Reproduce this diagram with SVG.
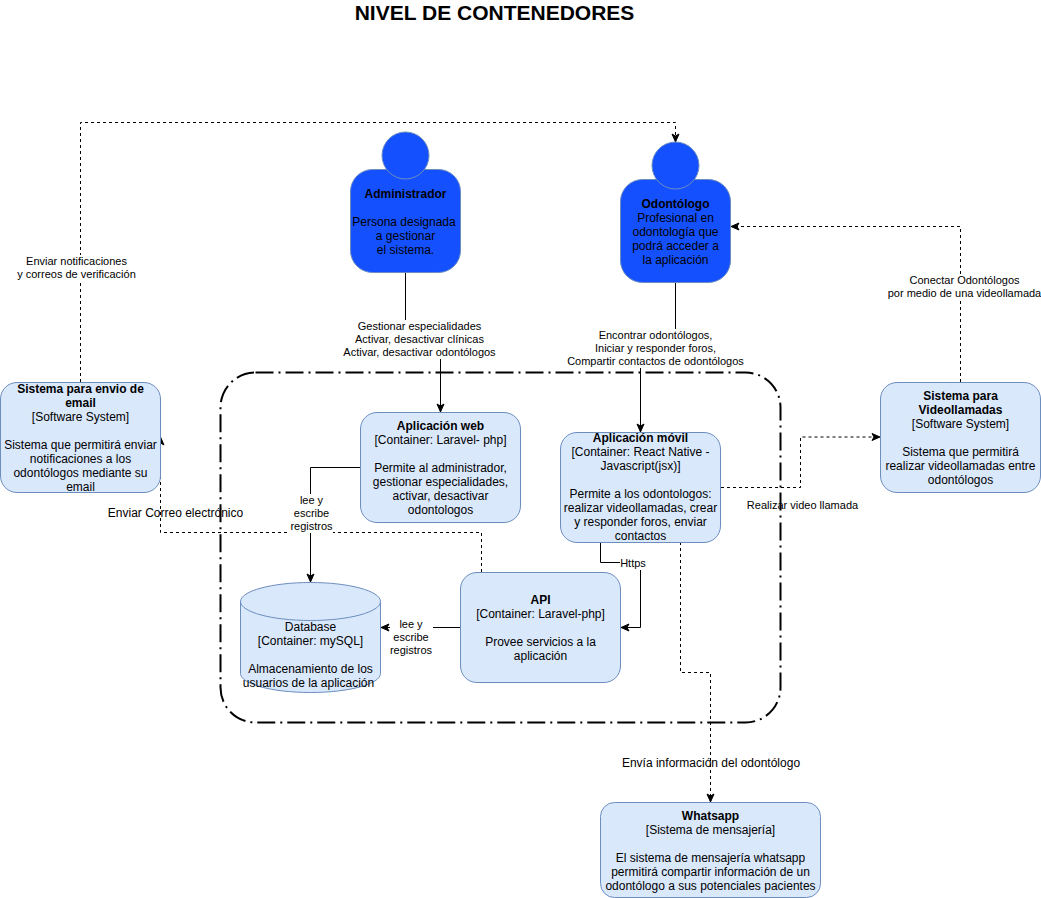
<svg xmlns="http://www.w3.org/2000/svg" width="1041" height="898" viewBox="0 0 1041 898">
<style>
text{font-family:"Liberation Sans",Arial,sans-serif;font-size:12px;fill:#000;text-anchor:middle}
text.b,tspan.b{font-weight:bold}
text.l{font-size:11px}
.box{fill:#dae8fc;stroke:#6c8ebf;stroke-width:1}
.act{fill:#1550ff;stroke:#6c8ebf;stroke-width:1}
.c{fill:none;stroke:#000;stroke-width:1}
.d{stroke-dasharray:3 3}
.bg{fill:#fff}
</style>
<defs>
<marker id="a" markerUnits="userSpaceOnUse" markerWidth="10" markerHeight="10" viewBox="-1 -1 10 10" refX="8" refY="4" orient="auto">
<path d="M8 4L0 0.500L2 4L0 7.500Z" fill="#000" stroke="#000" stroke-width="1"/>
</marker>
</defs>
<rect width="1041" height="898" fill="#fff"/>
<text x="494.500" y="20" class="b" style="font-size:21px">NIVEL DE CONTENEDORES</text>
<rect id="boundary" x="220.500" y="372.500" width="560" height="350" rx="35" ry="35" fill="none" stroke="#000" stroke-width="2" stroke-dasharray="18 5 2 5"/>
<g id="connectors">
<path class="c" d="M405.500 272V340H440.500V412" marker-end="url(#a)"/>
<path class="c" d="M675.500 282V350H640.500V432" marker-end="url(#a)"/>
<path class="c" d="M360 467.500H310.500V582" marker-end="url(#a)"/>
<path class="c d" d="M481.500 572V532.500H160.500V437" marker-end="url(#a)"/>
<path class="c" d="M460 627.500H381" marker-end="url(#a)"/>
<path class="c" d="M600.500 542V562.500H640.500V627.500H621" marker-end="url(#a)"/>
<path class="c d" d="M721 487.500H800.500V437H880" marker-end="url(#a)"/>
<path class="c d" d="M680.500 542V672.500H710.500V802" marker-end="url(#a)"/>
<path class="c d" d="M960.500 382V226.500H731" marker-end="url(#a)"/>
<path class="c d" d="M80.500 382V122.500H675.500V142" marker-end="url(#a)"/>
<rect class="bg" x="18" y="255" width="119" height="26"/>
<text class="l" x="76.500" y="265">Enviar notificaciones</text>
<text class="l" x="76.500" y="278">y correos de verificación</text>
<rect class="bg" x="343" y="320" width="153" height="39"/>
<text class="l" x="419.500" y="330">Gestionar especialidades</text>
<text class="l" x="419.500" y="343">Activar, desactivar clínicas</text>
<text class="l" x="419.500" y="356">Activar, desactivar odontólogos</text>
<rect class="bg" x="567" y="329" width="177" height="39"/>
<text class="l" x="655.500" y="339">Encontrar odontólogos,</text>
<text class="l" x="655.500" y="352">Iniciar y responder foros,</text>
<text class="l" x="655.500" y="365">Compartir contactos de odontólogos</text>
<rect class="bg" x="888" y="274" width="153" height="26"/>
<text class="l" x="964.500" y="284">Conectar Odontólogos</text>
<text class="l" x="964.500" y="297">por medio de una videollamada</text>
<rect class="bg" x="290" y="494" width="43" height="39"/>
<text class="l" x="311.500" y="504">lee y</text>
<text class="l" x="311.500" y="517">escribe</text>
<text class="l" x="311.500" y="530">registros</text>
<rect class="bg" x="390" y="617" width="43" height="39"/>
<text class="l" x="411" y="628">lee y</text>
<text class="l" x="411" y="641">escribe</text>
<text class="l" x="411" y="654">registros</text>
<rect class="bg" x="620" y="557" width="26" height="13"/>
<text class="l" x="633" y="567">Https</text>
<text x="175.500" y="517">Enviar Correo electrónico</text>
<text class="l" x="802.500" y="509">Realizar video llamada</text>
<text x="711" y="767">Envía información del odontólogo</text>
</g>
<g id="administrador">
<rect class="act" x="350.500" y="169.500" width="110" height="103" rx="22" ry="22"/>
<circle class="act" cx="405.500" cy="155.500" r="23.500"/>
<text class="b" x="405.500" y="198">Administrador</text>
<text x="404" y="226">Persona designada</text>
<text x="405.500" y="240">a gestionar</text>
<text x="405.500" y="254">el sistema.</text>
</g>
<g id="odontologo">
<rect class="act" x="620.500" y="179.500" width="110" height="103" rx="22" ry="22"/>
<circle class="act" cx="675.500" cy="165.500" r="23.500"/>
<text class="b" x="675.500" y="208">Odontólogo</text>
<text x="675.500" y="222">Profesional en</text>
<text x="675.500" y="236">odontología que</text>
<text x="675.500" y="250">podrá acceder a</text>
<text x="675.500" y="264">la aplicación</text>
</g>
<g id="email">
<rect class="box" x="0.500" y="382.500" width="160" height="110" rx="16.500" ry="16.500"/>
<text class="b" x="80.500" y="393">Sistema para envio de</text>
<text class="b" x="80.500" y="407">email</text>
<text x="80.500" y="421">[Software System]</text>
<text x="80.500" y="449">Sistema que permitirá enviar</text>
<text x="80.500" y="463">notificaciones a los</text>
<text x="80.500" y="477">odontólogos mediante su</text>
<text x="80.500" y="491">email</text>
</g>
<g id="web">
<rect class="box" x="360.500" y="412.500" width="160" height="110" rx="16.500" ry="16.500"/>
<text class="b" x="440.500" y="430">Aplicación web</text>
<text x="440.500" y="444">[Container: Laravel- php]</text>
<text x="440.500" y="472">Permite al administrador,</text>
<text x="440.500" y="486">gestionar especialidades,</text>
<text x="440.500" y="500">activar, desactivar</text>
<text x="440.500" y="514">odontologos</text>
</g>
<g id="movil">
<rect class="box" x="560.500" y="432.500" width="160" height="110" rx="16.500" ry="16.500"/>
<text class="b" x="640.500" y="442">Aplicación móvil</text>
<text x="640.500" y="456">[Container: React Native -</text>
<text x="640.500" y="470">Javascript(jsx)]</text>
<text x="640.500" y="498">Permite a los odontologos:</text>
<text x="640.500" y="512">realizar videollamadas, crear</text>
<text x="640.500" y="526">y responder foros, enviar</text>
<text x="640.500" y="540">contactos</text>
</g>
<g id="video">
<rect class="box" x="880.500" y="382.500" width="160" height="110" rx="16.500" ry="16.500"/>
<text class="b" x="960.500" y="400">Sistema para</text>
<text class="b" x="960.500" y="414">Videollamadas</text>
<text x="960.500" y="428">[Software System]</text>
<text x="960.500" y="456">Sistema que permitirá</text>
<text x="960.500" y="470">realizar videollamadas entre</text>
<text x="960.500" y="484">odontólogos</text>
</g>
<g id="database">
<path class="box" d="M240.500 601.500C240.500 591 271.800 582.500 310.500 582.500S380.500 591 380.500 601.500V673.500C380.500 684 349.200 692.500 310.500 692.500S240.500 684 240.500 673.500Z"/>
<path class="c" style="stroke:#6c8ebf" d="M240.500 601.500C240.500 612 271.800 620.500 310.500 620.500S380.500 612 380.500 601.500"/>
<text x="310.500" y="631">Database</text>
<text x="310.500" y="645">[Container: mySQL]</text>
<text x="310.500" y="673">Almacenamiento de los</text>
<text x="308.500" y="687">usuarios de la aplicación</text>
</g>
<g id="api">
<rect class="box" x="460.500" y="572.500" width="160" height="110" rx="16.500" ry="16.500"/>
<text class="b" x="540.500" y="604">API</text>
<text x="540.500" y="618">[Container: Laravel-php]</text>
<text x="540.500" y="646">Provee servicios a la</text>
<text x="540.500" y="660">aplicación</text>
</g>
<g id="whatsapp">
<rect class="box" x="600.500" y="802.500" width="220" height="95" rx="14" ry="14"/>
<text class="b" x="710.500" y="820">Whatsapp</text>
<text x="710.500" y="834">[Sistema de mensajería]</text>
<text x="710.500" y="862">El sistema de mensajería whatsapp</text>
<text x="710.500" y="876">permitirá compartir información de un</text>
<text x="710.500" y="890">odontólogo a sus potenciales pacientes</text>
</g>
</svg>
